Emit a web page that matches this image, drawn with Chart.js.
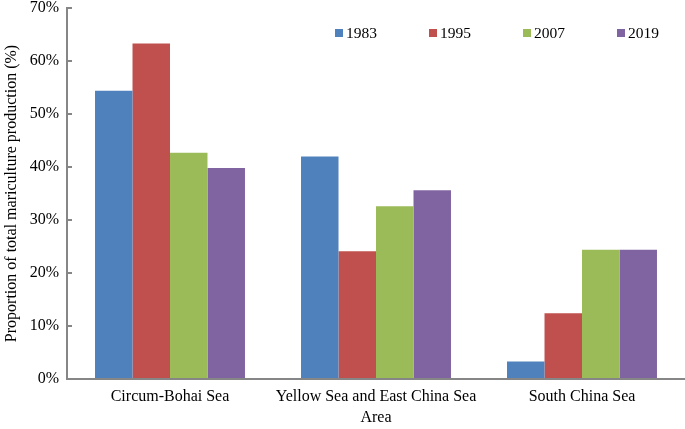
<!DOCTYPE html>
<html>
<head>
<meta charset="utf-8">
<script src="https://cdn.jsdelivr.net/npm/chart.js@4/dist/chart.umd.min.js"></script>
<style>
    html, body { margin: 0; padding: 0; background: #fff; }
    #wrap { width: 685px; height: 429px; }
</style>
</head>
<body>
<div id="wrap"><canvas id="areaChart"></canvas></div>
<script>
const areas = ["Circum-Bohai Sea", "Yellow Sea and East China Sea", "South China Sea"];
const years = ["1983", "1995", "2007", "2019"];
const share1983 = [54.4, 42.0, 3.3];
const share1995 = [63.3, 24.1, 12.4];
const share2007 = [42.7, 32.6, 24.4];
const share2019 = [39.8, 35.6, 24.4];
const yTicks = [0, 10, 20, 30, 40, 50, 60, 70];

const colors = ["#4F81BD", "#C0504D", "#9BBB59", "#8064A2"];
const serif = "'Liberation Serif', 'Times New Roman', serif";

// legend drawn inside the plot, like the original
const insideLegend = {
    id: 'insideLegend',
    afterDraw(chart) {
        const ctx = chart.ctx;
        ctx.save();
        ctx.font = "15.5px " + serif;
        ctx.textBaseline = 'middle';
        ctx.textAlign = 'left';
        chart.data.datasets.forEach(function (ds, i) {
            const x = 335 + i * 94;
            const y = 33;
            ctx.fillStyle = ds.backgroundColor;
            ctx.fillRect(x, y - 4, 8, 8);
            ctx.fillStyle = "#000";
            ctx.fillText(ds.label, x + 11, y + 1);
        });
        ctx.restore();
    }
};

const areaChartCtx = document.getElementById("areaChart").getContext('2d');
const areaChart = new Chart(areaChartCtx, {
    type: 'bar',
    data: {
        labels: areas,
        datasets: [share1983, share1995, share2007, share2019].map(function (d, i) {
            return {
                label: years[i],
                data: d,
                backgroundColor: colors[i],
                borderWidth: 0,
                categoryPercentage: 0.728,
                barPercentage: 1.0
            };
        })
    },
    options: {
        responsive: true,
        maintainAspectRatio: false,
        animation: false,
        layout: { padding: { top: 8, right: 0, left: 0, bottom: 0 } },
        plugins: {
            legend: { display: false },
            tooltip: { enabled: false }
        },
        scales: {
            x: {
                grid: { display: false, drawTicks: false },
                border: { color: "#868686", width: 2 },
                ticks: { color: "#000", font: { family: serif, size: 16 }, padding: 8, maxRotation: 0 },
                title: {
                    display: true, text: "Area", color: "#000",
                    font: { family: serif, size: 16 }, padding: { top: 0, bottom: 2 }
                },
                afterFit(scale) { scale.height = 50; scale.paddingLeft = 0; scale.paddingRight = 0; }
            },
            y: {
                min: 0,
                max: 70,
                afterBuildTicks(scale) { scale.ticks = yTicks.map(function (v) { return { value: v }; }); },
                grid: { drawOnChartArea: false, tickLength: -5, color: "#868686", lineWidth: 2 },
                border: { color: "#868686", width: 2 },
                ticks: {
                    color: "#000", font: { family: serif, size: 16 }, padding: 13,
                    callback: function (v) { return v + '%'; }
                },
                title: {
                    display: true, text: "Proportion of total mariculture production (%)", color: "#000",
                    font: { family: serif, size: 16 }, padding: { top: 2, bottom: 0 }
                },
                afterFit(scale) { scale.width = 67; scale.paddingTop = 0; scale.paddingBottom = 0; }
            }
        }
    },
    plugins: [insideLegend]
});
</script>
</body>
</html>
